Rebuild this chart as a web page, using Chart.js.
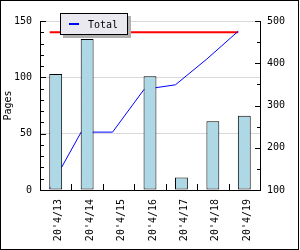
<!DOCTYPE html>
<html>
<head>
<meta charset="utf-8">
<script src="https://cdn.jsdelivr.net/npm/chart.js@4"></script>
<style>
  html, body { margin: 0; padding: 0; background: #fff; }
  #wrap { position: relative; width: 300px; height: 250px; }
  #legend {
    position: absolute; left: 60px; top: 13px; width: 66px; height: 20px;
    border: 1px solid #000; background: #ebe9f0; box-shadow: 3px 3px 0 #b0b0b0;
    font: 10px "DejaVu Sans Mono", monospace; color: #000;
    display: flex; align-items: center;
  }
  #legend .swatch { display: inline-block; width: 10px; height: 2px; margin-left: 8px; margin-right: 9px; }
</style>
</head>
<body>
<div id="wrap">
  <canvas id="pagesChart" width="300" height="250"></canvas>
  <div id="legend"></div>
</div>
<script>
// data
const days = ["20'4/13", "20'4/14", "20'4/15", "20'4/16", "20'4/17", "20'4/18", "20'4/19"];
const pages = [103, 134, 0, 101, 11, 61, 66];
const totalPages = [103, 237, 237, 338, 349, 410, 476];
const targetPages = [140, 140, 140, 140, 140, 140, 140];
const leftTicks = [0, 50, 100, 150];
const rightTicks = [100, 200, 300, 400, 500];

const font = { family: 'DejaVu Sans Mono', size: 10 };

// light blue fill with faint dots
const tile = document.createElement('canvas');
tile.width = 6; tile.height = 5;
const tctx = tile.getContext('2d');
tctx.fillStyle = '#add8e6';
tctx.fillRect(0, 0, 6, 5);
tctx.fillStyle = '#cfc3d2';
tctx.fillRect(3, 2, 1, 1);
const barFill = tctx.createPattern(tile, 'repeat');

// the original draws its lines from the left edge of each bar, not the centre
const lineShift = {
  id: 'lineShift',
  beforeDatasetDraw(chart, args) {
    if (args.meta.type !== 'line') return;
    const bar = chart.getDatasetMeta(0).data[0];
    chart.ctx.save();
    chart.ctx.translate(-Math.round(bar.width / 2), 0);
  },
  afterDatasetDraw(chart, args) {
    if (args.meta.type !== 'line') return;
    chart.ctx.restore();
  }
};

const axisMarks = {
  id: 'axisMarks',
  afterDraw(chart) {
    const { ctx, chartArea: a, scales } = chart;
    ctx.save();
    ctx.strokeStyle = '#000';
    ctx.lineWidth = 1;
    ctx.beginPath();
    for (let v = 0; v <= 150; v += 10) {
      const y = Math.round(scales.y.getPixelForValue(v)) + 0.5;
      ctx.moveTo(a.left, y);
      ctx.lineTo(a.left + (v % 50 === 0 ? 6 : 4), y);
    }
    for (let v = 100; v <= 500; v += 50) {
      const y = Math.round(scales.y2.getPixelForValue(v)) + 0.5;
      ctx.moveTo(a.right, y);
      ctx.lineTo(a.right - (v % 100 === 0 ? 5 : 3), y);
    }
    for (let i = 0; i < days.length - 1; i++) {
      const x = Math.round((scales.x.getPixelForValue(i) + scales.x.getPixelForValue(i + 1)) / 2) + 0.5;
      ctx.moveTo(x, a.bottom);
      ctx.lineTo(x, a.bottom - 6);
    }
    ctx.stroke();
    // outer frame
    ctx.strokeRect(0.5, 0.5, 298, 249);
    ctx.restore();
  }
};

const ctx = document.getElementById('pagesChart').getContext('2d');
const pagesChart = new Chart(ctx, {
  type: 'bar',
  data: {
    labels: days,
    datasets: [
      {
        label: 'Pages',
        data: pages,
        backgroundColor: barFill,
        borderColor: '#000',
        borderWidth: 1,
        borderSkipped: false,
        barPercentage: 0.41,
        categoryPercentage: 1,
        grouped: false,
        yAxisID: 'y',
        order: 0
      },
      {
        type: 'line',
        label: 'Total',
        data: totalPages,
        borderColor: '#0000ff',
        borderWidth: 1,
        pointRadius: 0,
        tension: 0,
        yAxisID: 'y2',
        order: 1,
        showInLegend: true
      },
      {
        type: 'line',
        label: 'Target',
        data: targetPages,
        borderColor: '#ff0000',
        borderWidth: 2,
        pointRadius: 0,
        yAxisID: 'y',
        order: 2
      }
    ]
  },
  options: {
    responsive: false,
    animation: false,
    layout: { padding: { top: 21, left: 0, right: 0, bottom: 0 } },
    plugins: {
      legend: { display: false },
      tooltip: { enabled: false }
    },
    scales: {
      x: {
        type: 'category',
        offset: true,
        grid: { color: 'transparent', drawTicks: false },
        border: { color: '#000' },
        ticks: { font: font, color: '#000', minRotation: 90, maxRotation: 90, autoSkip: false, padding: 9, labelOffset: 3 },
        afterFit: s => { s.height = 60; }
      },
      y: {
        position: 'left',
        min: 0,
        max: 150,
        afterBuildTicks: s => { s.ticks = leftTicks.map(v => ({ value: v })); },
        grid: { color: '#d9d9d9', drawTicks: false },
        border: { color: '#000' },
        ticks: { font: font, color: '#000', padding: 8 },
        title: { display: true, text: 'Pages', font: font, color: '#000', padding: { top: 2, bottom: 0 } },
        afterFit: s => { s.width = 40; }
      },
      y2: {
        position: 'right',
        min: 100,
        max: 500,
        afterBuildTicks: s => { s.ticks = rightTicks.map(v => ({ value: v })); },
        grid: { color: 'transparent', drawTicks: false },
        border: { color: '#000' },
        ticks: { font: font, color: '#000', padding: 7 },
        afterFit: s => { s.width = 40; }
      }
    }
  },
  plugins: [lineShift, axisMarks]
});

// html legend, only the Total line is listed
const legend = document.getElementById('legend');
pagesChart.data.datasets.filter(d => d.showInLegend).forEach(d => {
  const sw = document.createElement('span');
  sw.className = 'swatch';
  sw.style.background = d.borderColor;
  legend.appendChild(sw);
  legend.appendChild(document.createTextNode(d.label));
});
</script>
</body>
</html>
